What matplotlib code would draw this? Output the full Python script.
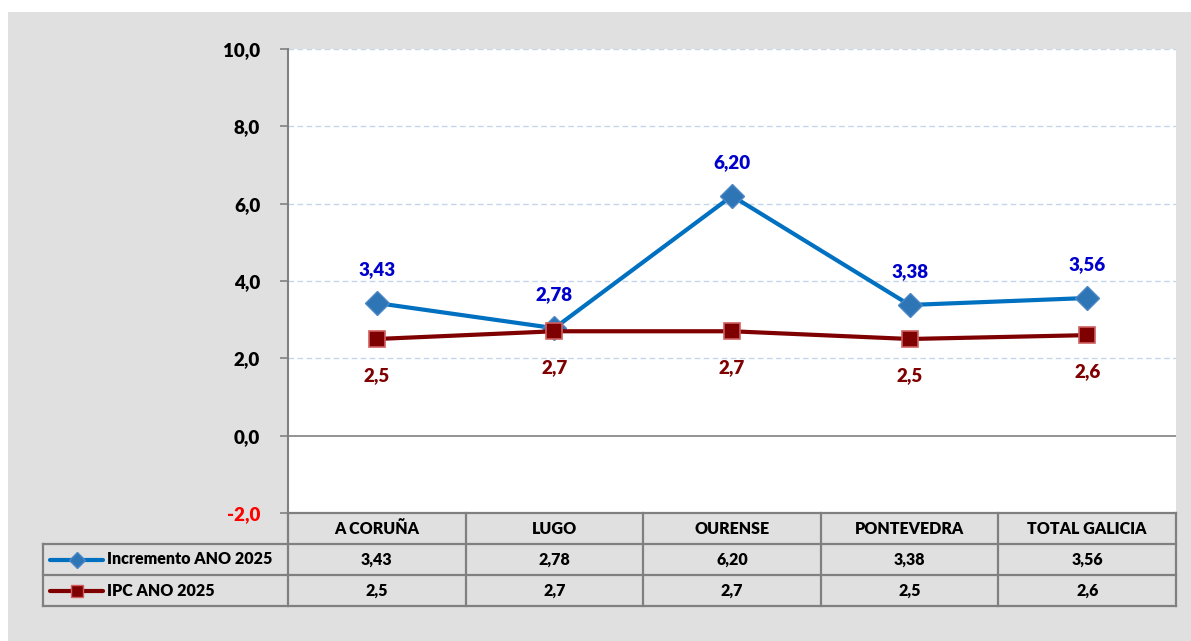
import numpy as np
import matplotlib.pyplot as plt

plt.rcParams['font.family'] = ['Lato', 'DejaVu Sans']
plt.rcParams['font.weight'] = 'bold'

# data
provincias = ["A CORUÑA", "LUGO", "OURENSE", "PONTEVEDRA", "TOTAL GALICIA"]
incremento = [3.43, 2.78, 6.20, 3.38, 3.56]
ipc = [2.5, 2.7, 2.7, 2.5, 2.6]
serie_nomes = ["Incremento ANO 2025", "IPC ANO 2025"]
yticks = [-2, 0, 2, 4, 6, 8, 10]

W, H = 1191, 641
BG = "#E0E0E0"
BLUE = "#0070C0"
RED = "#7F0000"
GRID = "#808080"


def fmt(v, d):
    return f"{v:.{d}f}".replace(".", ",")


fig = plt.figure(figsize=(W / 100, H / 100), dpi=100, facecolor="white")
# grey panel
bgax = fig.add_axes([8 / W, 0, 1 - 8 / W, 1 - 12 / H])
bgax.set_facecolor(BG)
bgax.set_xticks([])
bgax.set_yticks([])
for s in bgax.spines.values():
    s.set_visible(False)

# plot area
x0, x1, ytop, ybot = 288, 1176, 49, 513
ax = fig.add_axes([x0 / W, 1 - ybot / H, (x1 - x0) / W, (ybot - ytop) / H])
ax.set_facecolor("white")
n = len(provincias)
xs = np.arange(n)
ax.set_xlim(-0.5, n - 0.5)
ax.set_ylim(-2, 10)
for y in yticks:
    if y == 0:
        ax.axhline(y, color=GRID, lw=1.2, zorder=1)
    elif y > 0:
        ax.axhline(y, color="#C5D5EA", lw=1.0, ls=(0, (4, 2.5)), zorder=1)
ax.set_yticks(yticks)
ax.set_yticklabels([fmt(v, 1) for v in yticks], fontsize=13.5,
                   fontweight="heavy")
ax.get_yticklabels()[0].set_color("red")
ax.tick_params(axis="y", length=6, width=1.2, color=GRID, pad=14)
ax.set_xticks([])
for k in ["top", "right", "bottom"]:
    ax.spines[k].set_visible(False)
ax.spines["left"].set_color(GRID)
ax.spines["left"].set_linewidth(1.5)

ax.plot(xs, incremento, color=BLUE, lw=3, marker="D", ms=12.5,
        mfc="#2E75B6", mec="#4A86C5", zorder=3)
ax.plot(xs, ipc, color=RED, lw=3, marker="s", ms=11,
        mfc=RED, mec="#D06060", mew=1.2, zorder=4)
for x, v in zip(xs, incremento):
    ax.annotate(fmt(v, 2), (x, v), xytext=(0, 24), textcoords="offset points",
                ha="center", va="center", color="#0000CC", fontsize=13.5,
                fontweight="heavy")
for x, v in zip(xs, ipc):
    ax.annotate(fmt(v, 1), (x, v), xytext=(0, -26), textcoords="offset points",
                ha="center", va="center", color=RED, fontsize=13.5,
                fontweight="heavy")

# data table
tl = 43
colw = (x1 - x0) / n
xl = -0.5 - (x0 - tl) / colw
tax = fig.add_axes([tl / W, 1 - 606 / H, (x1 - tl) / W, (606 - 513) / H])
tax.set_xlim(xl, n - 0.5)
tax.set_ylim(3, 0)
tax.axis("off")
lk = dict(color=GRID, lw=1.6, solid_capstyle="projecting", clip_on=False)
tax.plot([-0.5, n - 0.5], [0, 0], **lk)
for r in [1, 2, 3]:
    tax.plot([xl, n - 0.5], [r, r], **lk)
tax.plot([xl, xl], [1, 3], **lk)
for i in range(n + 1):
    tax.plot([i - 0.5, i - 0.5], [0, 3], **lk)
fs = 11.5
for i, p in enumerate(provincias):
    tax.text(i, 0.5, p, ha="center", va="center", fontsize=fs,
             fontweight="heavy")
    tax.text(i, 1.5, fmt(incremento[i], 2), ha="center", va="center",
             fontsize=fs, fontweight="heavy")
    tax.text(i, 2.5, fmt(ipc[i], 1), ha="center", va="center",
             fontsize=fs, fontweight="heavy")
# legend keys
ks, ke = xl + 7 / colw, xl + 60 / colw
km = (ks + ke) / 2
tax.plot([ks, ke], [1.5, 1.5], color=BLUE, lw=3, solid_capstyle="round")
tax.plot([km], [1.5], marker="D", ms=8, mfc="#2E75B6", mec="#4A86C5")
tax.plot([ks, ke], [2.5, 2.5], color=RED, lw=3, solid_capstyle="round")
tax.plot([km], [2.5], marker="s", ms=8, mfc=RED, mec="#D06060")
for r, nome in enumerate(serie_nomes):
    tax.text(ke + 4 / colw, 1.5 + r, nome, ha="left", va="center",
             fontsize=fs, fontweight="heavy")

fig.savefig("out.png", dpi=100, facecolor=fig.get_facecolor())
